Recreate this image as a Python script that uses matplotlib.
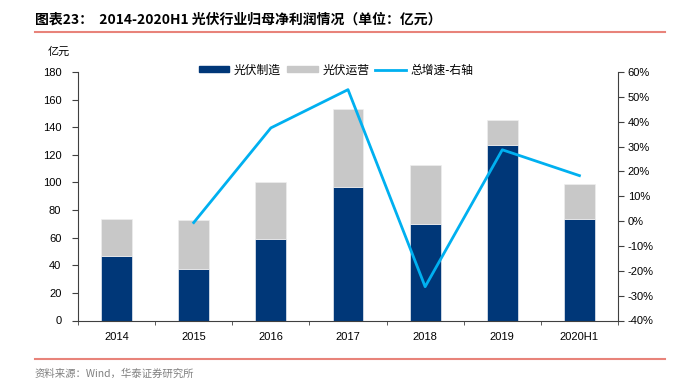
import numpy as np
import matplotlib.pyplot as plt
from matplotlib.lines import Line2D
from matplotlib.patches import Patch
from matplotlib.ticker import FuncFormatter

plt.rcParams['font.family'] = ['Noto Sans CJK SC', 'DejaVu Sans']

years = ['2014', '2015', '2016', '2017', '2018', '2019', '2020H1']
manufacturing = [46.4, 37.2, 58.9, 96.4, 70.0, 126.8, 73.7]
operation = [26.8, 35.8, 41.3, 57.0, 42.3, 18.2, 25.3]
growth_years = ['2015', '2016', '2017', '2018', '2019', '2020H1']
growth = [-0.6, 37.5, 52.9, -26.4, 28.7, 18.3]

navy = '#003778'
grey = '#C8C8C8'
cyan = '#00B0F0'
red = '#E8837A'
axis_col = '#404040'
num_font = 'Liberation Sans'

fig = plt.figure(figsize=(6.82, 3.80), dpi=100)
ax = fig.add_axes([78 / 682, 1 - 320.5 / 380, 540 / 682, 248.5 / 380])

x = np.arange(len(years))
ax.bar(x, manufacturing, width=0.4, color=navy, edgecolor='#E8ECF2', linewidth=0.5, zorder=2)
ax.bar(x, operation, width=0.4, bottom=manufacturing, color=grey, edgecolor='#EEEEEE',
       linewidth=0.5, zorder=2)
ax.set_xlim(-0.5, len(years) - 0.5)
ax.set_ylim(0, 180)
ax.set_yticks(np.arange(0, 181, 20))
ax.set_xticks(x)
ax.set_xticklabels(years, fontfamily=num_font, fontsize=8)
ax.set_xticks(np.arange(-0.5, len(years), 1), minor=True)
ax.tick_params(axis='x', which='major', length=0, pad=8, colors='black')
ax.tick_params(axis='x', which='minor', length=3, color=axis_col, direction='out')
ax.tick_params(axis='y', length=4, color=axis_col, labelsize=8, pad=8)
for lab in ax.get_yticklabels():
    lab.set_fontfamily(num_font)
for s in ['top', 'right']:
    ax.spines[s].set_visible(False)
ax.spines['left'].set_color(axis_col)
ax.spines['bottom'].set_color(axis_col)

ax2 = ax.twinx()
gx = [years.index(g) for g in growth_years]
ax2.plot(gx, growth, color=cyan, linewidth=2, zorder=3)
ax2.set_ylim(-40, 60)
ax2.set_yticks(np.arange(-40, 61, 10))
ax2.yaxis.set_major_formatter(FuncFormatter(lambda v, p: f'{int(v)}%'))
ax2.tick_params(axis='y', length=4, color=axis_col, labelsize=8, pad=3)
for lab in ax2.get_yticklabels():
    lab.set_fontfamily(num_font)
for s in ['top', 'left', 'bottom']:
    ax2.spines[s].set_visible(False)
ax2.spines['right'].set_color(axis_col)

handles = [Patch(color=navy), Patch(color=grey), Line2D([0], [0], color=cyan, linewidth=2)]
labels = ['光伏制造', '光伏运营', '总增速-右轴']
fig.legend(handles, labels, loc='center', bbox_to_anchor=(336 / 682, 1 - 70 / 380), ncol=3,
           frameon=False, fontsize=8.5, handlelength=2.6, handleheight=0.45,
           columnspacing=0.5, handletextpad=0.4)

fig.text(48 / 682, 1 - 52 / 380, '亿元', fontsize=8, va='center')
fig.text(35 / 682, 1 - 20 / 380, '图表23：  2014-2020H1 光伏行业归母净利润情况（单位：亿元）',
         fontsize=10, fontweight='bold', va='center')
fig.add_artist(Line2D([35 / 682, 665 / 682], [1 - 32 / 380, 1 - 32 / 380], color=red, linewidth=1.5))
fig.add_artist(Line2D([35 / 682, 665 / 682], [1 - 359 / 380, 1 - 359 / 380], color=red, linewidth=1.5))
fig.text(35 / 682, 1 - 374 / 380, '资料来源：Wind，华泰证券研究所', fontsize=7.5, color='#808080', va='center')

fig.savefig('out.png', dpi=100)
